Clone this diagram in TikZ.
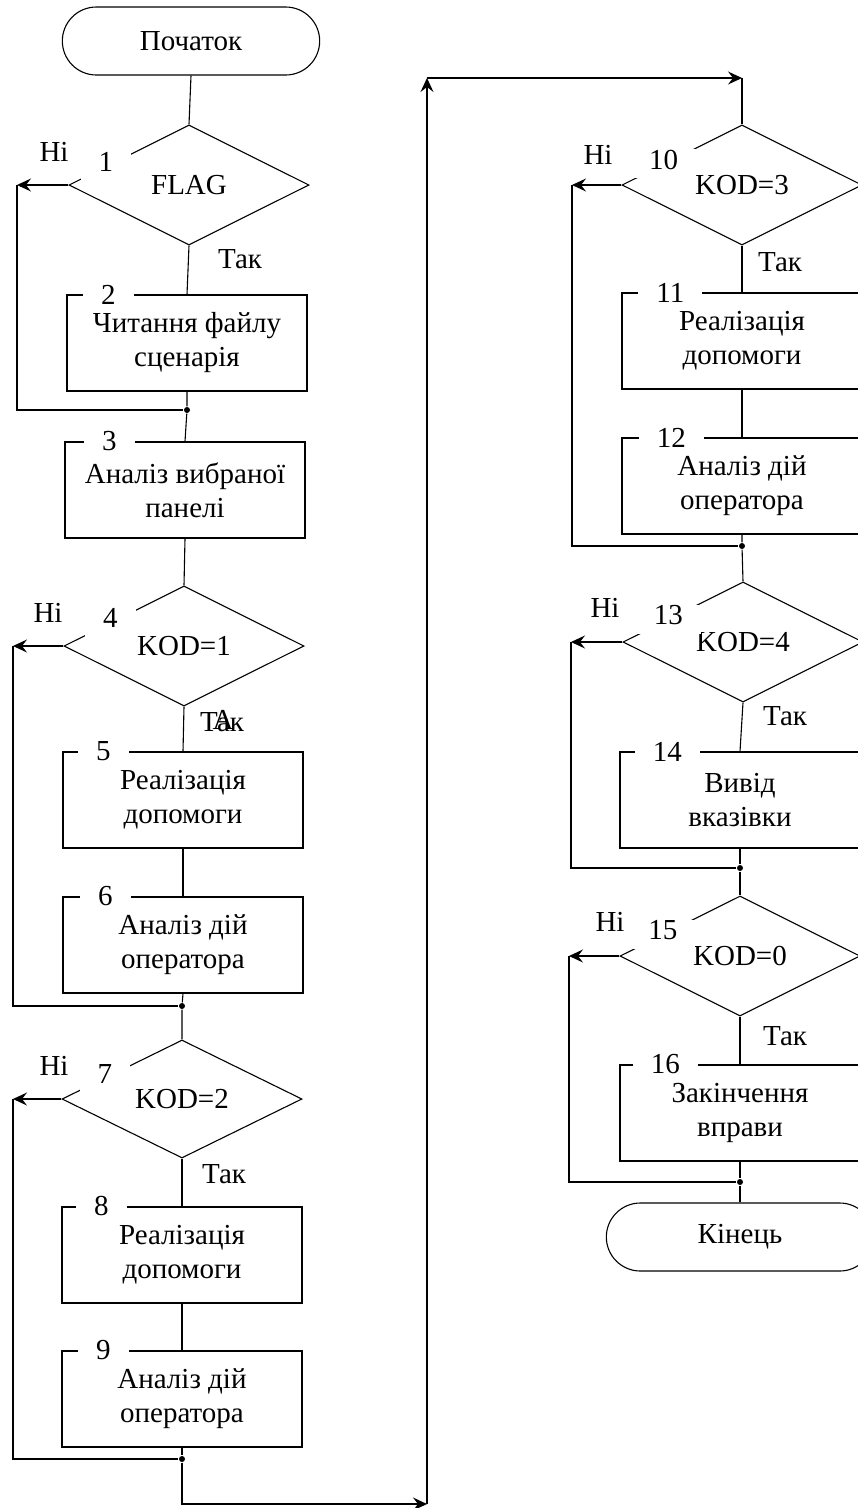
\documentclass[tikz,border=0pt]{standalone}
\usepackage{fontspec}
\setmainfont{Liberation Serif}
\usetikzlibrary{positioning,shapes.geometric,shapes.misc,arrows.meta,calc}
\tikzset{every node/.style={font=\fontsize{29}{34}\selectfont},
    proc/.style={draw, rectangle, minimum width=240pt, minimum height=96pt, align=center, inner sep=0pt},
    cond/.style={draw, diamond, aspect=2, minimum width=240pt, minimum height=120pt, inner sep=0pt},
    term/.style={draw, rounded rectangle, minimum width=264pt, minimum height=68pt},
    bnum/.style={fill=white, inner xsep=18pt, inner ysep=2pt},
    dnum/.style={fill=white, inner xsep=18pt, inner ysep=1pt, text height=19pt, text depth=8pt},
    jdot/.style={circle, fill, inner sep=0pt, minimum size=6pt},
    arr/.style={-{Stealth[length=14pt,width=13pt,inset=5pt]}}}

\begin{document}
\begin{tikzpicture}[x=1pt, y=-1pt, line width=1.1pt]
\useasboundingbox (0,0) rectangle (858,1508);
\clip (0,0) rectangle (858,1508);
% left column
\node[term] (start) at (191,41) {Початок};
\node[cond] (d1) at (189,185) {FLAG};
\node[proc] (b2) at (187,343) {Читання файлу\\сценарія};
\node[jdot] (j2) at (187,410) {};
\node[proc] (b3) at (185,490) {Аналіз вибраної\\панелі};
\node[cond] (d4) at (184,646) {KOD=1};
\node[proc] (b5) at (183,800) {Реалізація\\допомоги};
\node[proc] (b6) at (183,945) {Аналіз дій\\оператора};
\node[jdot] (j6) at (182,1006) {};
\node[cond, minimum height=118pt] (d7) at (182,1099) {KOD=2};
\node[proc] (b8) at (182,1255) {Реалізація\\допомоги};
\node[proc] (b9) at (182,1399) {Аналіз дій\\оператора};
\node[jdot] (j9) at (182,1459) {};
% right column
\node[cond] (d10) at (742,185) {KOD=3};
\node[proc] (b11) at (742,341) {Реалізація\\допомоги};
\node[proc] (b12) at (742,486) {Аналіз дій\\оператора};
\node[jdot] (j12) at (742,546) {};
\node[cond] (d13) at (743,642) {KOD=4};
\node[proc] (b14) at (740,800) {Вивід\\вказівки};
\node[jdot] (j14) at (740,868) {};
\node[cond] (d15) at (740,956) {KOD=0};
\node[proc] (b16) at (740,1113) {Закінчення\\вправи};
\node[jdot] (j16) at (740,1182) {};
\node[term, minimum width=274pt] (end) at (740,1237) {Кінець};
% block numbers
\node[dnum] (n1) at ($(d1.west)!0.31!(d1.north)$) {1};
\node[bnum] (n2) at ($(b2.north west)+(42,0)$) {2};
\node[bnum] (n3) at ($(b3.north west)+(45,0)$) {3};
\node[dnum] (n4) at ($(d4.west)!0.39!(d4.north)$) {4};
\node[bnum] (n5) at ($(b5.north west)+(41,0)$) {5};
\node[bnum] (n6) at ($(b6.north west)+(43,0)$) {6};
\node[dnum] (n7) at ($(d7.west)!0.36!(d7.north)$) {7};
\node[bnum] (n8) at ($(b8.north west)+(40,0)$) {8};
\node[bnum] (n9) at ($(b9.north west)+(42,0)$) {9};
\node[dnum] (n10) at ($(d10.west)!0.35!(d10.north)$) {10};
\node[bnum] (n11) at ($(b11.north west)+(49,0)$) {11};
\node[bnum] (n12) at ($(b12.north west)+(50,0)$) {12};
\node[dnum] (n13) at ($(d13.west)!0.38!(d13.north)$) {13};
\node[bnum] (n14) at ($(b14.north west)+(48,0)$) {14};
\node[dnum] (n15) at ($(d15.west)!0.36!(d15.north)$) {15};
\node[bnum] (n16) at ($(b16.north west)+(46,0)$) {16};
% answers
\node (no1) at (54,152) {Ні};
\node (yes1) at (240,259) {Так};
\node (no4) at (48,613) {Ні};
\node (yes4) at (222,722) {Так};
\node (yes4a) at (223,720) {А};
\node (no7) at (54,1066) {Ні};
\node (yes7) at (224,1174) {Так};
\node (no10) at (598,155) {Ні};
\node (yes10) at (780,262) {Так};
\node (no13) at (605,608) {Ні};
\node (yes13) at (785,716) {Так};
\node (no15) at (610,922) {Ні};
\node (yes15) at (785,1036) {Так};
% turning points
\coordinate (c1) at (17,185);
\coordinate (c4) at (13,646);
\coordinate (c7) at (13,1099);
\coordinate (c10) at (572,185);
\coordinate (c13) at (571,642);
\coordinate (c15) at (569,956);
\coordinate (bl) at (427,1504);
\coordinate (tl) at (427,78);
\coordinate (tr) at (742,78);
% main flow
\draw (start.south) -- (d1.north);
\draw (d1.south) -- (b2.north);
\draw (b2.south) -- (j2) -- (b3.north);
\draw (b3.south) -- (d4.north);
\draw (d4.south) -- (b5.north);
\draw (b5.south) -- (b6.north);
\draw (b6.south) -- (j6) -- (d7.north);
\draw (d7.south) -- (b8.north);
\draw (b8.south) -- (b9.north);
\draw (b9.south) -- (j9);
\draw[arr] (j9) |- (bl);
\draw[arr] (bl) -- (tl);
\draw[arr] (tl) -- (tr);
\draw (tr) -- (d10.north);
\draw (d10.south) -- (b11.north);
\draw (b11.south) -- (b12.north);
\draw (b12.south) -- (j12) -- (d13.north);
\draw (d13.south) -- (b14.north);
\draw (b14.south) -- (j14) -- (d15.north);
\draw (d15.south) -- (b16.north);
\draw (b16.south) -- (j16) -- (end.north);
% "no" branches
\draw[arr] (d1.west) -- (c1);
\draw (c1) |- (j2);
\draw[arr] (d4.west) -- (c4);
\draw (c4) |- (j6);
\draw[arr] (d7.west) -- (c7);
\draw (c7) |- (j9);
\draw[arr] (d10.west) -- (c10);
\draw (c10) |- (j12);
\draw[arr] (d13.west) -- (c13);
\draw (c13) |- (j14);
\draw[arr] (d15.west) -- (c15);
\draw (c15) |- (j16);
\end{tikzpicture}
\end{document}
